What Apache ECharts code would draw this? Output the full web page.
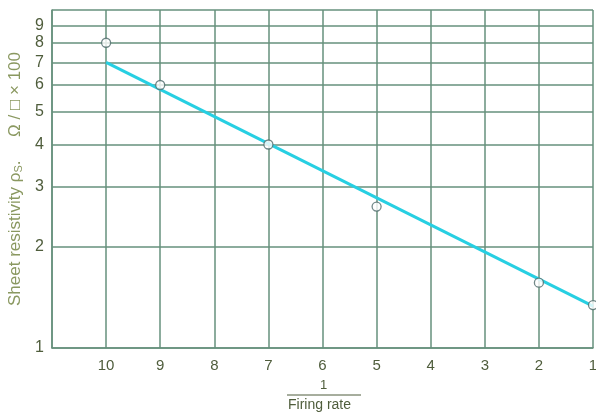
<!DOCTYPE html>
<html><head><meta charset="utf-8">
<script src="https://cdn.jsdelivr.net/npm/echarts@6/dist/echarts.min.js"></script>
<style>html,body{margin:0;padding:0;background:#fff}#c{width:596px;height:419px}</style>
</head><body><div id="c"></div>
<script>
// Measured points (x = 1/firing rate, y = sheet resistivity ×100)
const pointX = [10, 9, 7, 5, 2, 1];
const pointY = [8, 6, 4, 2.62, 1.56, 1.34];
// Fitted straight line (on log scale) endpoints
const fitX = [10, 1];
const fitY = [7, 1.33];
// Axis ticks
const xTicks = [1, 2, 3, 4, 5, 6, 7, 8, 9, 10, 11];
const yGrid = [1, 2, 3, 4, 5, 6, 7, 8, 9, 10];
const yLabels = [1, 2, 3, 4, 5, 6, 7, 8, 9];

const textColor = '#4f5d3c';
const gridColor = '#66907c';

const chart = echarts.init(document.getElementById('c'), null, {renderer: 'canvas'});
chart.setOption({
  animation: false,
  backgroundColor: '#fff',
  grid: {left: 52, right: 3, top: 10, bottom: 71, containLabel: false, outerBoundsMode: 'none'},
  xAxis: {
    type: 'value', min: 1, max: 11, interval: 1, inverse: true,
    axisLine: {show: true, lineStyle: {color: gridColor, width: 1.5}},
    axisTick: {show: false},
    splitLine: {show: true, lineStyle: {color: gridColor, width: 1.5}},
    axisLabel: {
      color: textColor, fontSize: 15, fontFamily: 'Liberation Sans', margin: 10,
      formatter: v => (v >= 11 ? '' : String(v))
    }
  },
  yAxis: {
    type: 'log', logBase: 10, min: 1, max: 10,
    axisLine: {show: true, lineStyle: {color: gridColor, width: 1.5}},
    axisTick: {show: false, customValues: yGrid},
    splitLine: {show: true, lineStyle: {color: gridColor, width: 1.5}},
    minorTick: {show: false},
    minorSplitLine: {show: false},
    axisLabel: {
      color: textColor, fontSize: 16, fontFamily: 'Liberation Sans', margin: 8,
      customValues: yLabels
    },
    name: '{a|Sheet resistivity ρ}{s|S}{a|.     Ω / □ × 100}',
    nameLocation: 'middle', nameGap: 26, nameRotate: 90,
    nameTextStyle: {
      rich: {
        a: {color: '#8a9860', fontSize: 17, fontFamily: 'Liberation Sans'},
        s: {color: '#8a9860', fontSize: 11, fontFamily: 'Liberation Sans', verticalAlign: 'bottom', padding: [7, 0, 0, 0]}
      }
    }
  },
  graphic: [
    {type: 'text', left: 320, top: 379, style: {text: '1', fill: textColor, font: '13px Liberation Sans'}},
    {type: 'line', shape: {x1: 287, y1: 395, x2: 361, y2: 395}, style: {stroke: textColor, lineWidth: 1}},
    {type: 'text', left: 288, top: 398, style: {text: 'Firing rate', fill: textColor, font: '14px Liberation Sans'}}
  ],
  series: [
    {
      type: 'line', data: fitX.map((x, i) => [x, fitY[i]]),
      symbol: 'none', lineStyle: {color: '#27cfe2', width: 3}, z: 3
    },
    {
      type: 'scatter', data: pointX.map((x, i) => [x, pointY[i]]),
      symbol: 'circle', symbolSize: 9,
      itemStyle: {color: '#fff', borderColor: '#4d6a6a', borderWidth: 1.3}, z: 4
    }
  ]
});
</script></body></html>
